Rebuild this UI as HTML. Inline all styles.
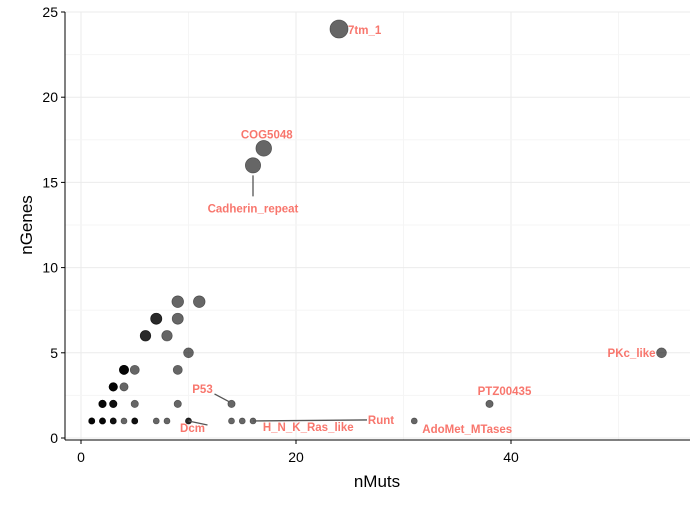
<!DOCTYPE html>
<html><head><meta charset="utf-8"><style>
body{margin:0;background:#fff}
svg{font-family:"Liberation Sans",sans-serif}
</style></head><body>
<svg id="chart" width="700" height="500">
<g id="grid"></g>
<g id="pts"></g>
<g id="labs"></g>
<line x1="65" y1="12" x2="65" y2="440" stroke="#000"/>
<line x1="65" y1="440" x2="690" y2="440" stroke="#000"/>
<g id="axes"></g>
<text x="377" y="487" font-size="17" text-anchor="middle">nMuts</text>
<text x="0" y="0" font-size="17" text-anchor="middle" transform="translate(32,225) rotate(-90)">nGenes</text>
</svg>
<script>
const xs=[1,2,3,4,5,7,8,10,14,15,16,31, 2,3,5,9,14,38, 3,4, 4,5,9, 10,54, 6,8, 7,9, 9,11, 16,17,24];
const ys=[1,1,1,1,1,1,1,1,1,1,1,1, 2,2,2,2,2,2, 3,3, 4,4,4, 5,5, 6,6, 7,7, 8,8, 16,17,24];
const counts=[4,4,3,1,3,1,1,2,1,1,1,1, 4,3,1,1,1,1, 4,1, 4,1,1, 1,1, 2,1, 2,1, 1,1, 1,1,1];
const xTicks=[0,20,40];
const yTicks=[0,5,10,15,20,25];
const labels=[["7tm_1",24,24],["COG5048",17,17],["Cadherin_repeat",16,16],["PKc_like",54,5],["PTZ00435",38,2],["P53",14,2],["Dcm",10,1],["H_N_K_Ras_like",15,1],["Runt",16,1],["AdoMet_MTases",31,1]];
const X=v=>81+v*10.75, Y=v=>438-v*17.04;
const NS="http://www.w3.org/2000/svg";
function mk(t,a,p){const e=document.createElementNS(NS,t);for(const k in a)e.setAttribute(k,a[k]);p.appendChild(e);return e;}
const grid=document.getElementById('grid'),axes=document.getElementById('axes');
[0,10,20,30,40,50].forEach(v=>{const l=mk('line',{x1:X(v),x2:X(v),y1:12,y2:440,stroke:v%20?'#f5f5f5':'#ebebeb'},grid);

});
[0,2.5,5,7.5,10,12.5,15,17.5,20,22.5,25].forEach(v=>{const l=mk('line',{x1:65,x2:690,y1:Y(v),y2:Y(v),stroke:v%5?'#f5f5f5':'#ebebeb'},grid);

});
xTicks.forEach(v=>{const l=mk('line',{x1:X(v),x2:X(v),y1:440,y2:444,stroke:'#000'},axes);


const t=mk('text',{x:X(v),y:462,'font-size':14,'text-anchor':'middle'},axes);t.textContent=v;

});
yTicks.forEach(v=>{const l=mk('line',{x1:61,x2:65,y1:Y(v),y2:Y(v),stroke:'#000'},axes);


const t=mk('text',{x:58,y:Y(v)+5,'font-size':14,'text-anchor':'end'},axes);t.textContent=v;

});
const pts=document.getElementById('pts');
xs.forEach((x,i)=>{const r=1.5+1.55*Math.sqrt(ys[i]);
for(let k=0;k<counts[i];k++){const c=mk('circle',{cx:X(x),cy:Y(ys[i]),r:r,fill:'rgba(0,0,0,0.6)',stroke:'rgba(0,0,0,0.5)','stroke-width':0.6},pts);

}});
const place={"7tm_1":[9,5,'start'],"COG5048":[3,-10,'middle'],"Cadherin_repeat":[0,47,'middle',[0,10,0,31]],"PKc_like":[-6,4,'end'],"PTZ00435":[15,-9,'middle'],"P53":[-29,-11,'middle',[-2,-2,-17,-10]],"Dcm":[4,11,'middle',[0,0,19,4]],"H_N_K_Ras_like":[66,10,'middle'],"Runt":[128,3,'middle',[0,0,114,-1]],"AdoMet_MTases":[53,12,'middle']};
const labs=document.getElementById('labs');
labels.forEach(([n,x,y])=>{const p=place[n],cx=X(x),cy=Y(y);
if(p[3]){const q=p[3];const l=mk('line',{x1:cx+q[0],y1:cy+q[1],x2:cx+q[2],y2:cy+q[3],stroke:'#555','stroke-width':1.3},labs);

}
const t=mk('text',{x:cx+p[0],y:cy+p[1],'font-size':11.5,'font-weight':'bold',fill:'#F8766D','text-anchor':p[2]},labs);t.textContent=n;

});
</script>
</body></html>
